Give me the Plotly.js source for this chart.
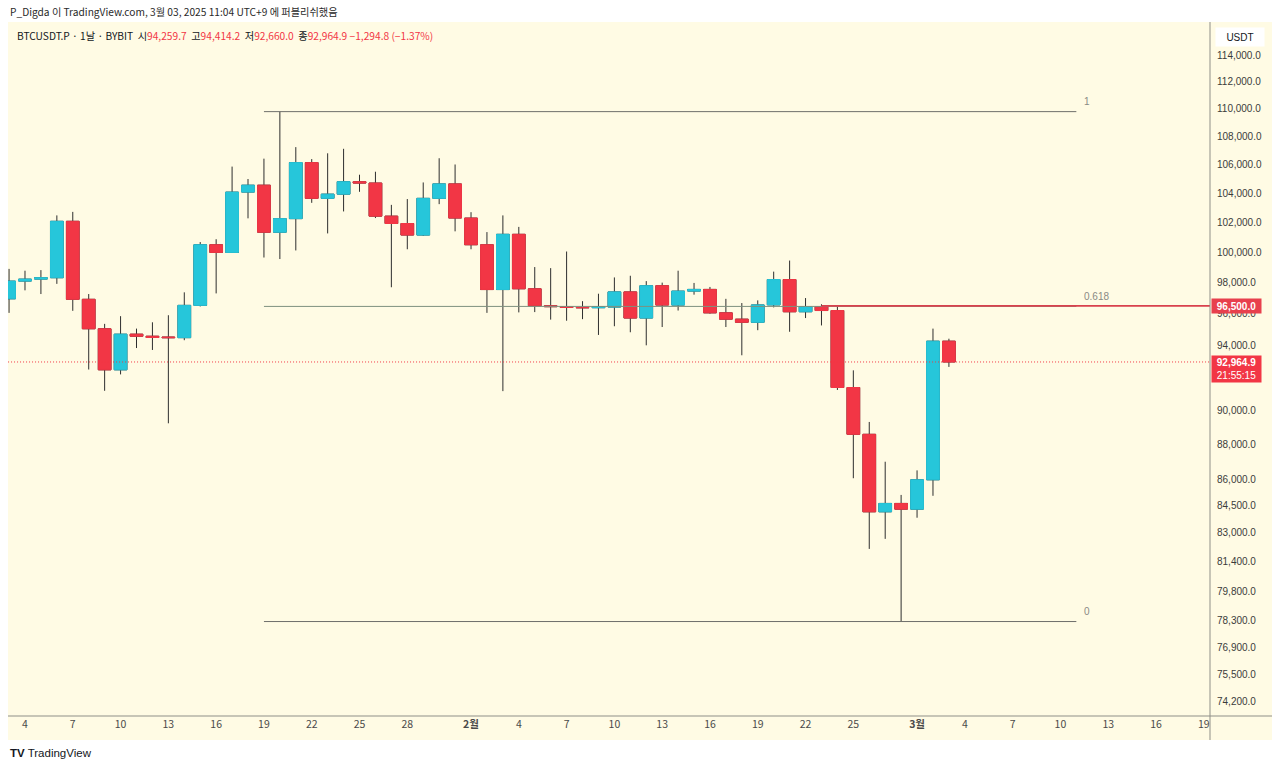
<!DOCTYPE html>
<html>
<head>
<meta charset="utf-8">
<script src="https://cdn.plot.ly/plotly-3.0.1.min.js"></script>
<style>
html,body{margin:0;padding:0;background:#ffffff;}
#chart{width:1280px;height:769px;}
</style>
</head>
<body>
<div id="chart"></div>
<script>
// ---- data (daily candles, BTCUSDT.P BYBIT) ----
const dates = [
 '2025-01-03','2025-01-04','2025-01-05','2025-01-06','2025-01-07','2025-01-08','2025-01-09','2025-01-10',
 '2025-01-11','2025-01-12','2025-01-13','2025-01-14','2025-01-15','2025-01-16','2025-01-17','2025-01-18',
 '2025-01-19','2025-01-20','2025-01-21','2025-01-22','2025-01-23','2025-01-24','2025-01-25','2025-01-26',
 '2025-01-27','2025-01-28','2025-01-29','2025-01-30','2025-01-31','2025-02-01','2025-02-02','2025-02-03',
 '2025-02-04','2025-02-05','2025-02-06','2025-02-07','2025-02-08','2025-02-09','2025-02-10','2025-02-11',
 '2025-02-12','2025-02-13','2025-02-14','2025-02-15','2025-02-16','2025-02-17','2025-02-18','2025-02-19',
 '2025-02-20','2025-02-21','2025-02-22','2025-02-23','2025-02-24','2025-02-25','2025-02-26','2025-02-27',
 '2025-02-28','2025-03-01','2025-03-02','2025-03-03'
];
const openP = [
 96950, 98100, 98230, 98320, 102080, 96920, 95040, 92480,
 94700, 94570, 94520, 94480, 96530, 100500, 99990, 104080,
 104560, 101340, 102260, 106140, 103650, 103940, 104800, 104710,
 102430, 101930, 101150, 103650, 104650, 102300, 100500, 97550,
 101200, 97600, 96500, 96450, 96400, 96380, 96420, 97400,
 95720, 97800, 96550, 97450, 97560, 96050, 95650, 95450,
 96560, 98200, 96120, 96450, 96200, 91400, 88600, 84150,
 84620, 84300, 85960, 94259.7
];
const highP = [
 98900, 98780, 98820, 102480, 102720, 97260, 95350, 95840,
 95050, 95450, 95900, 97370, 100680, 100870, 105860, 104990,
 106420, 109800, 107240, 106390, 106800, 107120, 105290, 105500,
 103200, 103600, 104750, 106450, 106010, 102700, 101350, 102480,
 101700, 99020, 98950, 100050, 96800, 97280, 98340, 98450,
 98100, 98000, 98780, 97980, 97720, 96950, 96680, 96850,
 98720, 99450, 97000, 96600, 96480, 92450, 89330, 87000,
 85100, 86500, 95050, 94414.2
];
const lowP = [
 96050, 97500, 97260, 97920, 96180, 92500, 91200, 92200,
 93830, 93710, 89250, 94320, 96460, 97300, 99950, 102280,
 99650, 99550, 100120, 103340, 101260, 102750, 104100, 102300,
 97700, 100200, 101100, 103250, 101400, 100200, 96050, 91180,
 96080, 96100, 95620, 95550, 95650, 94650, 95200, 94820,
 94000, 95150, 96200, 97220, 96000, 95150, 93380, 94950,
 96400, 94850, 95720, 95250, 91250, 86050, 82100, 82650,
 78230, 83820, 85050, 92660.0
];
const closeP = [
 98100, 98230, 98320, 102080, 96920, 95040, 92480, 94700,
 94570, 94490, 94480, 96530, 100500, 99990, 104080, 104560,
 101340, 102260, 106140, 103650, 103940, 104800, 104710, 102430,
 101930, 101150, 103650, 104650, 102300, 100500, 97550, 101200,
 97600, 96500, 96450, 96400, 96380, 96420, 97400, 95720,
 97800, 96550, 97450, 97560, 96050, 95650, 95450, 96560,
 98200, 96120, 96450, 96200, 91400, 88600, 84150, 84620,
 84300, 85960, 94260, 92964.9
];

// price axis ticks
const yTickVals = [114000,112000,110000,108000,106000,104000,102000,100000,98000,96000,94000,
                   90000,88000,86000,84500,83000,81400,79800,78300,76900,75500,74200];
// date axis ticks
const xTickVals = ['2025-01-04','2025-01-07','2025-01-10','2025-01-13','2025-01-16','2025-01-19','2025-01-22',
 '2025-01-25','2025-01-28','2025-02-01','2025-02-04','2025-02-07','2025-02-10','2025-02-13','2025-02-16',
 '2025-02-19','2025-02-22','2025-02-25','2025-03-01','2025-03-04','2025-03-07','2025-03-10','2025-03-13',
 '2025-03-16','2025-03-19'];
const xTickText = ['4','7','10','13','16','19','22','25','28','<b>2월</b>','4','7','10','13','16','19','22','25',
 '<b>3월</b>','4','7','10','13','16','19'];

// fibonacci retracement (log based) & drawings
const fibStart = '2025-01-19', fibEnd = '2025-03-11';
const fibHigh = 109800, fibLow = 78230;
const fibLevels = [1, 0.618, 0];
const fibLabels = ['1', '0.618', '0'];
const hLinePrice = 96500;
const hLineStart = '2025-02-23';
const lastPrice = 92964.9;
const countdown = '21:55:15';

// ---- styling ----
const CREAM = '#fffbe4';
const UP = '#26c6da';
const DOWN = '#f23645';
const WICK = '#2e2e2e';
const L = 8, R = 1210, T = 22, B = 716;
const px = x => (x - L) / (R - L);
const py = y => (B - y) / (B - T);

function fibPrice(level){
  return Math.exp(Math.log(fibLow) + level * (Math.log(fibHigh) - Math.log(fibLow)));
}
function fmt(v){
  return v.toLocaleString('en-US', {minimumFractionDigits:1, maximumFractionDigits:1});
}

const bodyHigh = openP.map((o,i)=>Math.max(o, closeP[i]));
const bodyLow = openP.map((o,i)=>Math.min(o, closeP[i]));

const traces = [];
// wicks
traces.push({
  type:'candlestick', x:dates, open:openP, high:highP, low:lowP, close:closeP,
  increasing:{line:{color:WICK, width:1}, fillcolor:WICK},
  decreasing:{line:{color:WICK, width:1}, fillcolor:WICK},
  whiskerwidth:0, hoverinfo:'skip', showlegend:false
});
// bodies
traces.push({
  type:'candlestick', x:dates, open:openP, high:bodyHigh, low:bodyLow, close:closeP,
  increasing:{line:{color:UP, width:1}, fillcolor:UP},
  decreasing:{line:{color:DOWN, width:1}, fillcolor:DOWN},
  whiskerwidth:0, hoverinfo:'skip', showlegend:false
});
// fib lines
const fibColors = ['#6e6e6a', '#7f917f', '#6e6e6a'];
fibLevels.forEach((lv, i) => {
  const p = fibPrice(lv);
  traces.push({type:'scatter', mode:'lines', x:[fibStart, fibEnd], y:[p, p],
    line:{color:fibColors[i], width:1}, hoverinfo:'skip', showlegend:false});
});
// horizontal 96,500 line
traces.push({type:'scatter', mode:'lines', x:[hLineStart, '2025-04-30'], y:[hLinePrice, hLinePrice],
  line:{color:'#d9414d', width:1.6}, hoverinfo:'skip', showlegend:false});
// last price dotted line
traces.push({type:'scatter', mode:'lines', x:['2024-12-20', '2025-04-30'], y:[lastPrice, lastPrice],
  line:{color:'#f23645', width:1, dash:'1px,2px'}, hoverinfo:'skip', showlegend:false});

const annotations = [];
// header
annotations.push({xref:'paper', yref:'paper', x:px(8), y:py(11), xanchor:'left', yanchor:'middle', showarrow:false,
  text:'P_Digda 이 TradingView.com, 3월 03, 2025 11:04 UTC+9 에 퍼블리쉬했음',
  font:{family:'"Noto Sans CJK KR", "Liberation Sans", sans-serif', size:10.2, color:'#2a2a2a'}});
// legend line
const red = s => '<span style="color:#f23645">' + s + '</span>';
annotations.push({xref:'paper', yref:'paper', x:px(15), y:py(35), xanchor:'left', yanchor:'middle', showarrow:false,
  text:'BTCUSDT.P · 1날 · BYBIT  시' + red(fmt(openP[openP.length-1])) + '  고' + red(fmt(highP[highP.length-1])) +
       '  저' + red(fmt(lowP[lowP.length-1])) + '  종' + red(fmt(closeP[closeP.length-1])) + ' ' +
       red('−1,294.8 (−1.37%)'),
  font:{family:'"Noto Sans CJK KR", "Liberation Sans", sans-serif', size:10.2, color:'#131722'}});
// footer logo
annotations.push({xref:'paper', yref:'paper', x:px(8), y:py(753), xanchor:'left', yanchor:'middle', showarrow:false,
  text:'<b>TV</b> TradingView', font:{family:'"Liberation Sans", sans-serif', size:11.5, color:'#131722'}});
// USDT box
annotations.push({xref:'paper', yref:'paper', x:px(1240), y:py(37), xanchor:'center', yanchor:'middle', showarrow:false,
  text:'USDT', bgcolor:'#ffffff', width:44, height:14, borderpad:2,
  font:{family:'"Liberation Sans", sans-serif', size:10, color:'#131722'}});
// fib labels
fibLevels.forEach((lv, i) => {
  annotations.push({xref:'x', yref:'y', x:fibEnd, y:Math.log10(fibPrice(lv)), xanchor:'left', yanchor:'middle',
    xshift:6, yshift:10, showarrow:false, text:fibLabels[i],
    font:{family:'"Liberation Sans", sans-serif', size:10, color:'#8a8a84'}});
});
// price labels
annotations.push({xref:'paper', yref:'y', x:px(1211), y:Math.log10(hLinePrice), xanchor:'left', yanchor:'middle',
  showarrow:false, text:'<b>' + fmt(hLinePrice) + '</b>', bgcolor:'#e8404d', width:47, height:12, borderpad:1,
  font:{family:'"Liberation Sans", sans-serif', size:10, color:'#ffffff'}});
annotations.push({xref:'paper', yref:'y', x:px(1211), y:Math.log10(lastPrice), xanchor:'left', yanchor:'top',
  yshift:7, showarrow:false, text:'<b>' + fmt(lastPrice) + '</b><br>' + countdown, bgcolor:'#f23645', width:47, height:24,
  borderpad:1, font:{family:'"Liberation Sans", sans-serif', size:10, color:'#ffffff'}});

const layout = {
  width:1280, height:769,
  margin:{l:L, r:1280-R, t:T, b:769-B, pad:0},
  paper_bgcolor:'#ffffff', plot_bgcolor:CREAM,
  showlegend:false,
  boxgap:0.2, boxgroupgap:0,
  xaxis:{type:'date', range:['2025-01-02 22:24', '2025-03-19 09:22'], tickvals:xTickVals, ticktext:xTickText,
    showgrid:false, zeroline:false, showline:false, ticks:'', rangeslider:{visible:false}, fixedrange:true,
    tickfont:{family:'"Noto Sans CJK KR", "Liberation Sans", sans-serif', size:10.5, color:'#4a4a4a'}},
  yaxis:{type:'log', side:'right', range:[Math.log10(73468), Math.log10(116542)],
    tickvals:yTickVals, ticktext:yTickVals.map(fmt), showgrid:false, zeroline:false, showline:false, ticks:'',
    ticklabelstandoff:6, fixedrange:true,
    tickfont:{family:'"Liberation Sans", sans-serif', size:10, color:'#3b3b3b'}},
  shapes:[
    {type:'rect', xref:'paper', yref:'paper', x0:px(8), x1:px(1272), y0:py(740), y1:py(22), layer:'below',
      fillcolor:CREAM, line:{width:0}},
    {type:'line', xref:'paper', yref:'paper', x0:px(8), x1:px(1272), y0:0, y1:0, line:{color:'#8f8f88', width:1}},
    {type:'line', xref:'paper', yref:'paper', x0:1, x1:1, y0:py(740), y1:py(22), line:{color:'#8f8f88', width:1}}
  ],
  annotations:annotations
};

Plotly.newPlot('chart', traces, layout, {displayModeBar:false, staticPlot:true});
</script>
</body>
</html>
